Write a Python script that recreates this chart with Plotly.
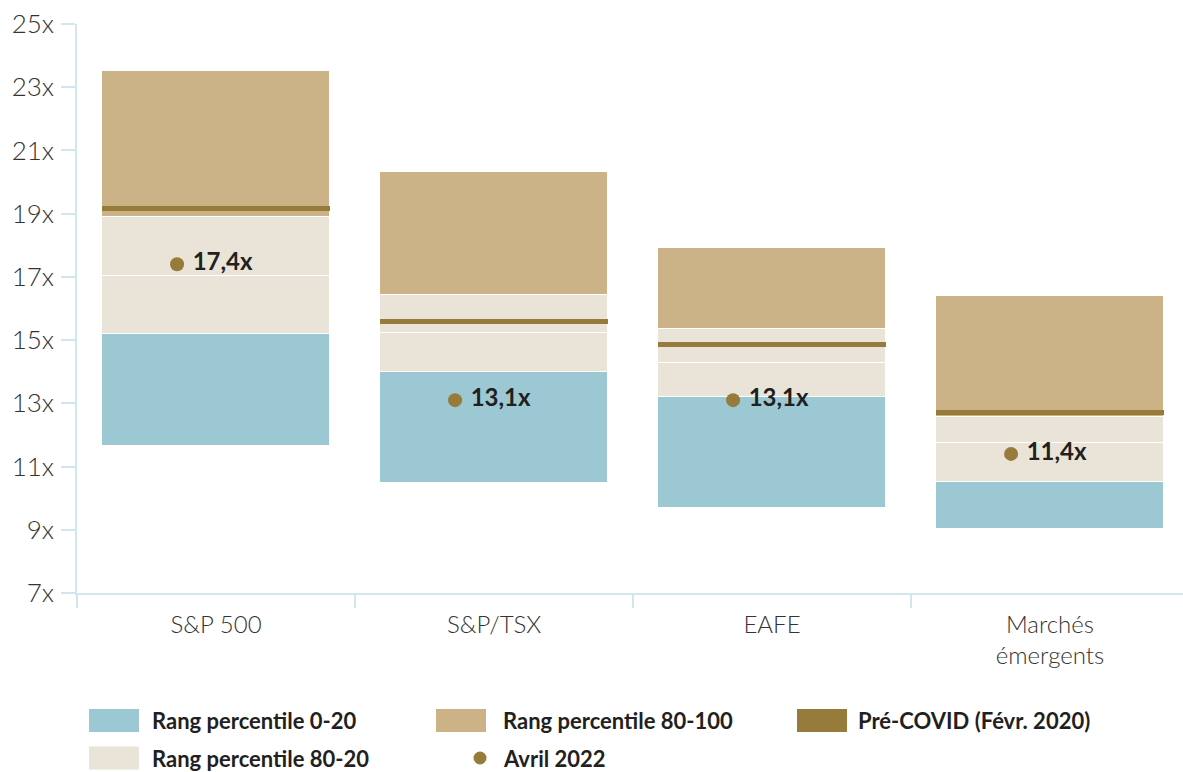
import plotly.graph_objects as go

# ---------------- data ----------------
categories = ["S&P 500", "S&P/TSX", "EAFE", "Marchés<br>émergents"]
p_min = [11.65, 10.47, 9.69, 9.04]       # bottom of 0-20 percentile
p20 = [15.18, 14.00, 13.20, 10.52]       # 20th percentile
p_mid = [17.03, 15.23, 14.28, 11.76]     # split inside 80-20 band
p80 = [18.88, 16.42, 15.35, 12.57]       # 80th percentile
p_max = [23.50, 20.33, 17.90, 16.40]     # top of 80-100 percentile
pre_covid = [19.15, 15.60, 14.86, 12.70]  # Pré-COVID (Févr. 2020)
avril_2022 = [17.4, 13.1, 13.1, 11.4]    # Avril 2022
y_ticks = [7, 9, 11, 13, 15, 17, 19, 21, 23, 25]
y_tick_labels = [f"{v}x" for v in y_ticks]

legend_labels = ["Rang percentile 0-20", "Rang percentile 80-100", "Pré-COVID (Févr. 2020)",
                 "Rang percentile 80-20", "Avril 2022"]

# ---------------- styles ----------------
BLUE = "#9CC8D4"
BEIGE = "#EAE4D8"
TAN = "#CBB387"
GOLD = "#977B3B"
AXIS = "#D3E6EE"
TXT = "#231F20"
FONT = "Lato"

W, H = 1183, 772
L, R, T, B = 77, 0, 24, 179
PW, PH = W - L - R, H - T - B

def px_x(p):
    return (p - L) / PW

def px_y(p):
    return (H - B - p) / PH

x = list(range(len(categories)))
bar_w = 0.817
seg_line = dict(color="white", width=1)

fig = go.Figure()

def seg(lo, hi, color, name):
    fig.add_trace(go.Bar(
        x=x, base=lo, y=[h - l for l, h in zip(lo, hi)], width=bar_w,
        marker=dict(color=color, line=seg_line), name=name, showlegend=False,
        hoverinfo="skip"))

seg(p_min, p20, BLUE, legend_labels[0])
seg(p20, p_mid, BEIGE, legend_labels[3])
seg(p_mid, p80, BEIGE, legend_labels[3])
seg(p80, p_max, TAN, legend_labels[1])

thick = 0.16
fig.add_trace(go.Bar(
    x=x, base=[v - thick / 2 for v in pre_covid], y=[thick] * len(x), width=bar_w,
    marker=dict(color=GOLD, line=dict(width=0)), name=legend_labels[2],
    showlegend=False, hoverinfo="skip"))

fig.add_trace(go.Scatter(
    x=[i - 0.14 for i in x], y=avril_2022, mode="markers+text",
    text=["\u00a0" + f"{v:.1f}".replace(".", ",") + "x" for v in avril_2022],
    textposition="middle right",
    textfont=dict(family=FONT, size=24, color=TXT, weight=700),
    marker=dict(size=14, color=GOLD), name=legend_labels[4],
    showlegend=False, hoverinfo="skip"))

# ---------------- custom legend ----------------
shapes = []
annotations = []
row_y = [720.5, 758]
sw_h = 23
items = [
    (89, 150, row_y[0], BLUE, legend_labels[0], "rect"),
    (436, 501, row_y[0], TAN, legend_labels[1], "rect"),
    (797, 856, row_y[0], GOLD, legend_labels[2], "rect"),
    (89, 150, row_y[1], BEIGE, legend_labels[3], "rect"),
    (473.5, 501, row_y[1], GOLD, legend_labels[4], "dot"),
]
for sx, tx, cy, col, lab, kind in items:
    if kind == "rect":
        shapes.append(dict(type="rect", xref="paper", yref="paper",
                           x0=px_x(sx), x1=px_x(sx + 50),
                           y0=px_y(cy + sw_h / 2), y1=px_y(cy - sw_h / 2),
                           fillcolor=col, line=dict(width=0), layer="above"))
    else:
        shapes.append(dict(type="circle", xref="paper", yref="paper",
                           x0=px_x(sx), x1=px_x(sx + 13),
                           y0=px_y(cy + 6.5), y1=px_y(cy - 6.5),
                           fillcolor=col, line=dict(width=0), layer="above"))
    annotations.append(dict(xref="paper", yref="paper", x=px_x(tx), y=px_y(cy),
                            xanchor="left", yanchor="middle", showarrow=False,
                            text=lab, font=dict(family=FONT, size=22, color=TXT, weight=700)))

fig.update_layout(
    width=W, height=H,
    margin=dict(l=L, r=R, t=T, b=B, pad=0),
    paper_bgcolor="white", plot_bgcolor="white",
    barmode="overlay", bargap=0,
    showlegend=False,
    font=dict(family=FONT, color="#333333"),
    shapes=shapes, annotations=annotations,
    xaxis=dict(
        range=[-0.5, -0.5 + PW / 278.0],
        tickmode="array", tickvals=x, ticktext=categories,
        ticks="outside", ticklen=9, tickcolor="rgba(0,0,0,0)",
        tickfont=dict(family=FONT, size=24, color="#333333", weight=300),
        showline=True, linecolor=AXIS, linewidth=1.5,
        showgrid=False, zeroline=False,
        minor=dict(tickmode="array", tickvals=[-0.5, 0.5, 1.5, 2.5],
                   ticks="outside", ticklen=13, tickcolor=AXIS, tickwidth=1.5,
                   showgrid=False),
    ),
    yaxis=dict(
        range=[7, 25], tickmode="array", tickvals=y_ticks, ticktext=y_tick_labels,
        ticks="outside", ticklen=14, tickcolor=AXIS, tickwidth=1.5,
        ticklabelstandoff=2,
        tickfont=dict(family=FONT, size=26, color="#333333", weight=300),
        showline=True, linecolor=AXIS, linewidth=1.5,
        showgrid=False, zeroline=False,
    ),
)

fig.write_html("out.html")
